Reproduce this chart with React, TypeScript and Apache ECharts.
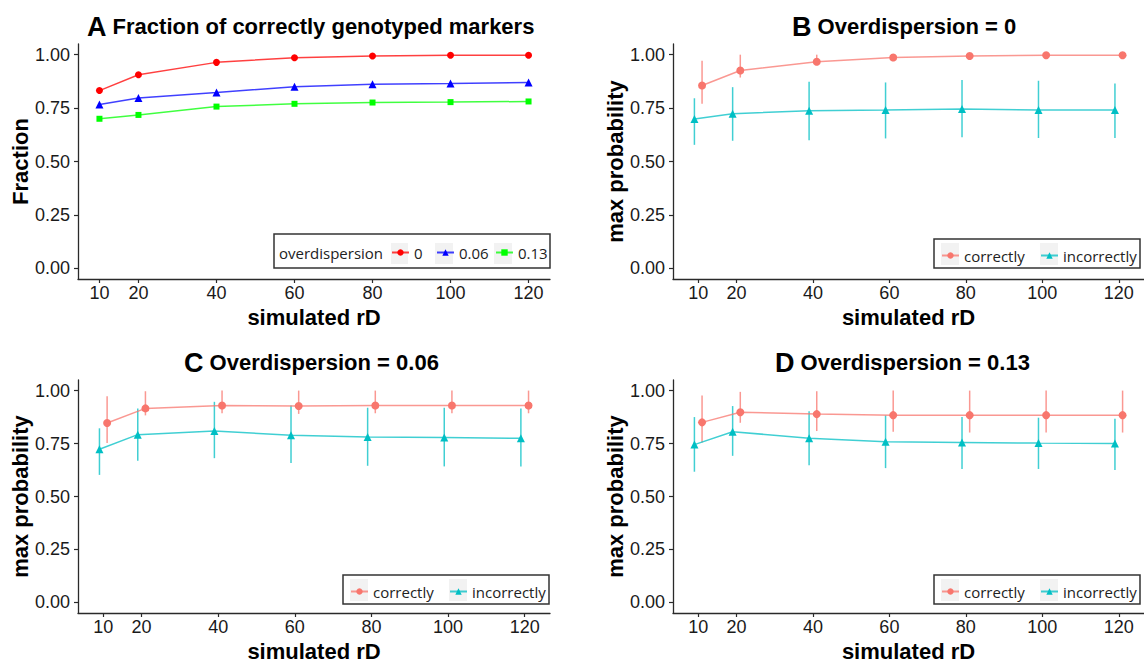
import React, { useEffect, useRef } from "react";
import * as echarts from "echarts";

// ---------- data ----------
const rdTicks = [10, 20, 40, 60, 80, 100, 120];
const yTicks = [0, 0.25, 0.5, 0.75, 1];

// Panel A: fraction of correctly genotyped markers
const fracOD0 = [0.832, 0.906, 0.964, 0.986, 0.994, 0.997, 0.997];
const fracOD006 = [0.767, 0.797, 0.823, 0.85, 0.862, 0.865, 0.87];
const fracOD013 = [0.7, 0.718, 0.757, 0.77, 0.776, 0.778, 0.781];

// Panel B: overdispersion = 0
const bCorrect = [0.856, 0.926, 0.967, 0.987, 0.994, 0.997, 0.997];
const bCorrectLo = [0.77, 0.893, 0.952, 0.975, 0.986, 0.991, 0.992];
const bCorrectHi = [0.972, 1.0, 1.0, 1.0, 1.0, 1.0, 1.0];
const bIncorrect = [0.699, 0.724, 0.738, 0.741, 0.746, 0.741, 0.741];
const bIncorrectLo = [0.578, 0.597, 0.6, 0.608, 0.613, 0.61, 0.61];
const bIncorrectHi = [0.796, 0.848, 0.873, 0.87, 0.882, 0.878, 0.865];

// Panel C: overdispersion = 0.06
const cCorrect = [0.847, 0.916, 0.93, 0.927, 0.93, 0.93, 0.93];
const cCorrectLo = [0.752, 0.883, 0.893, 0.89, 0.893, 0.893, 0.893];
const cCorrectHi = [0.973, 0.997, 1.0, 1.0, 1.0, 1.0, 1.0];
const cIncorrect = [0.723, 0.792, 0.809, 0.789, 0.781, 0.778, 0.775];
const cIncorrectLo = [0.602, 0.669, 0.681, 0.658, 0.645, 0.642, 0.642];
const cIncorrectHi = [0.822, 0.916, 0.947, 0.93, 0.919, 0.919, 0.916];

// Panel D: overdispersion = 0.13
const dCorrect = [0.85, 0.898, 0.889, 0.884, 0.884, 0.884, 0.884];
const dCorrectLo = [0.755, 0.848, 0.809, 0.806, 0.802, 0.802, 0.802];
const dCorrectHi = [0.977, 0.994, 0.997, 1.0, 1.0, 1.0, 1.0];
const dIncorrect = [0.745, 0.806, 0.775, 0.759, 0.755, 0.752, 0.75];
const dIncorrectLo = [0.617, 0.692, 0.648, 0.634, 0.63, 0.63, 0.625];
const dIncorrectHi = [0.875, 0.927, 0.903, 0.883, 0.875, 0.872, 0.867];

const DODGE = 1;

// ---------- style ----------
const FONT = "Liberation Sans";
const LEG_FONT = "Open Sans";
const AXIS_COLOR = "#2a2a2a";
const RED = "#F8766D";
const TEAL = "#00BFC4";

function xAxisOf(gridIndex: number, min: number, max: number) {
  return {
    type: "value",
    gridIndex,
    min,
    max,
    axisLine: { show: true, onZero: false, lineStyle: { color: AXIS_COLOR, width: 1.3 } },
    axisTick: { show: true, customValues: rdTicks, length: 4, lineStyle: { color: AXIS_COLOR, width: 1.2 } },
    axisLabel: { customValues: rdTicks, fontSize: 18, color: "#1a1a1a", margin: 5, fontFamily: FONT },
    splitLine: { show: false },
    name: "simulated rD",
    nameLocation: "middle",
    nameGap: 27,
    nameTextStyle: { fontSize: 22, fontWeight: "bold", color: "#000", fontFamily: FONT },
  };
}

function yAxisOf(gridIndex: number, name: string) {
  return {
    type: "value",
    gridIndex,
    min: -0.05,
    max: 1.05,
    axisLine: { show: true, onZero: false, lineStyle: { color: AXIS_COLOR, width: 1.3 } },
    axisTick: { show: true, customValues: yTicks, length: 4, lineStyle: { color: AXIS_COLOR, width: 1.2 } },
    axisLabel: {
      customValues: yTicks,
      fontSize: 18,
      color: "#1a1a1a",
      margin: 8,
      fontFamily: FONT,
      formatter: (v: number) => v.toFixed(2),
    },
    splitLine: { show: false },
    name,
    nameLocation: "middle",
    nameGap: 46,
    nameRotate: 90,
    nameTextStyle: { fontSize: 22, fontWeight: "bold", color: "#000", fontFamily: FONT },
  };
}

function lineSeries(name: string, idx: number, xs: number[], ys: number[], color: string, symbol: string, size: number) {
  return {
    name,
    type: "line",
    xAxisIndex: idx,
    yAxisIndex: idx,
    data: xs.map((x, i) => [x, ys[i]]),
    symbol,
    symbolSize: size,
    showSymbol: true,
    itemStyle: { color },
    lineStyle: { color, width: 1.5, opacity: 0.75 },
    z: 3,
  };
}

function errSeries(idx: number, xs: number[], lo: number[], hi: number[], color: string) {
  return {
    type: "custom",
    xAxisIndex: idx,
    yAxisIndex: idx,
    silent: true,
    data: xs.map((x, i) => [x, lo[i], hi[i]]),
    encode: { x: 0, y: [1, 2] },
    renderItem: (params: any, api: any) => {
      const p1 = api.coord([api.value(0), api.value(1)]);
      const p2 = api.coord([api.value(0), api.value(2)]);
      return {
        type: "line",
        shape: { x1: p1[0], y1: p1[1], x2: p2[0], y2: p2[1] },
        style: { stroke: color, lineWidth: 1.5, opacity: 0.75 },
      };
    },
    z: 2,
  };
}

function legendItem(name: string, left: number, top: number) {
  return {
    data: [name],
    left,
    top,
    orient: "horizontal",
    padding: 0,
    itemWidth: 17,
    itemHeight: 8,
    itemGap: 0,
    selectedMode: false,
    textStyle: { fontFamily: LEG_FONT, fontSize: 15, color: "#222", padding: [0, 0, 0, 0] },
  };
}

function titleOf(letter: string, text: string, left: number, top: number) {
  return {
    text: `{l|${letter}} {t|${text}}`,
    left,
    top,
    padding: 0,
    textStyle: {
      fontFamily: FONT,
      fontSize: 22,
      fontWeight: "bold",
      color: "#000",
      rich: {
        l: { fontFamily: FONT, fontSize: 27, fontWeight: 900, color: "#000" },
        t: { fontFamily: FONT, fontSize: 22, fontWeight: "bold", color: "#000" },
      },
    },
  };
}

const LOW = 336;

export default function App() {
  const ref = useRef<HTMLDivElement>(null);
  useEffect(() => {
    if (!ref.current) return;
    const chart = echarts.init(ref.current, undefined, { renderer: "svg" });
    const xsC = rdTicks.map((x) => x + DODGE);
    const xsI = rdTicks.map((x) => x - DODGE);

    const boxStyle = { fill: "none", stroke: "#333", lineWidth: 1.5 };
    const keyStyle = { fill: "#f2f2f2" };

    const graphics: any[] = [
      // Panel A legend
      { type: "rect", shape: { x: 274, y: 234, width: 276, height: 34 }, style: boxStyle, silent: true },
      { type: "rect", shape: { x: 391, y: 243, width: 17, height: 21 }, style: keyStyle, silent: true },
      { type: "rect", shape: { x: 435, y: 243, width: 18, height: 21 }, style: keyStyle, silent: true },
      { type: "rect", shape: { x: 494, y: 243, width: 18, height: 21 }, style: keyStyle, silent: true },
      {
        type: "text",
        x: 279,
        y: 253,
        style: { text: "overdispersion", fontFamily: LEG_FONT, fontSize: 15, fill: "#222", verticalAlign: "middle" },
        silent: true,
      },
    ];
    const smallLegends: [number, number][] = [
      [934, 239],
      [343, 239 + LOW],
      [934, 239 + LOW],
    ];
    smallLegends.forEach(([bx, by]) => {
      graphics.push({ type: "rect", shape: { x: bx, y: by, width: 206, height: 29 }, style: boxStyle, silent: true });
      graphics.push({ type: "rect", shape: { x: bx + 7, y: by + 4, width: 18, height: 22 }, style: keyStyle, silent: true });
      graphics.push({ type: "rect", shape: { x: bx + 106, y: by + 4, width: 18, height: 22 }, style: keyStyle, silent: true });
    });

    const option: any = {
      animation: false,
      backgroundColor: "#fff",
      textStyle: { fontFamily: FONT },
      title: [
        titleOf("A", "Fraction of correctly genotyped markers", 87, 13),
        titleOf("B", "Overdispersion = 0", 792, 13),
        titleOf("C", "Overdispersion = 0.06", 184, 13 + LOW),
        titleOf("D", "Overdispersion = 0.13", 775, 13 + LOW),
      ],
      grid: [
        { left: 78, top: 44, width: 472, height: 235 },
        { left: 673, top: 44, width: 471, height: 235 },
        { left: 78, top: 44 + LOW, width: 472, height: 235 },
        { left: 673, top: 44 + LOW, width: 471, height: 235 },
      ],
      xAxis: [xAxisOf(0, 4.5, 125.5), xAxisOf(1, 3.4, 126.6), xAxisOf(2, 3.4, 126.6), xAxisOf(3, 3.4, 126.6)],
      yAxis: [yAxisOf(0, "Fraction"), yAxisOf(1, "max probability"), yAxisOf(2, "max probability"), yAxisOf(3, "max probability")],
      legend: [
        legendItem("0", 391, 245),
        legendItem("0.06", 436, 245),
        legendItem("0.13", 495, 245),
        legendItem("correctly", 941, 248),
        legendItem("incorrectly", 1040, 248),
        legendItem("correctly", 350, 248 + LOW),
        legendItem("incorrectly", 449, 248 + LOW),
        legendItem("correctly", 941, 248 + LOW),
        legendItem("incorrectly", 1040, 248 + LOW),
      ],
      graphic: graphics,
      series: [
        lineSeries("0", 0, rdTicks, fracOD0, "#FF0000", "circle", 7),
        lineSeries("0.06", 0, rdTicks, fracOD006, "#0000FF", "triangle", 8),
        lineSeries("0.13", 0, rdTicks, fracOD013, "#00FF00", "rect", 6),

        errSeries(1, xsC, bCorrectLo, bCorrectHi, RED),
        errSeries(1, xsI, bIncorrectLo, bIncorrectHi, TEAL),
        lineSeries("correctly", 1, xsC, bCorrect, RED, "circle", 8),
        lineSeries("incorrectly", 1, xsI, bIncorrect, TEAL, "triangle", 8),

        errSeries(2, xsC, cCorrectLo, cCorrectHi, RED),
        errSeries(2, xsI, cIncorrectLo, cIncorrectHi, TEAL),
        lineSeries("correctly", 2, xsC, cCorrect, RED, "circle", 8),
        lineSeries("incorrectly", 2, xsI, cIncorrect, TEAL, "triangle", 8),

        errSeries(3, xsC, dCorrectLo, dCorrectHi, RED),
        errSeries(3, xsI, dIncorrectLo, dIncorrectHi, TEAL),
        lineSeries("correctly", 3, xsC, dCorrect, RED, "circle", 8),
        lineSeries("incorrectly", 3, xsI, dIncorrect, TEAL, "triangle", 8),
      ],
    };
    chart.setOption(option);
    return () => chart.dispose();
  }, []);
  return (
    <div
      ref={ref}
      style={{ position: "absolute", left: 0, top: 0, width: 1144, height: 663, background: "#fff" }}
    />
  );
}
